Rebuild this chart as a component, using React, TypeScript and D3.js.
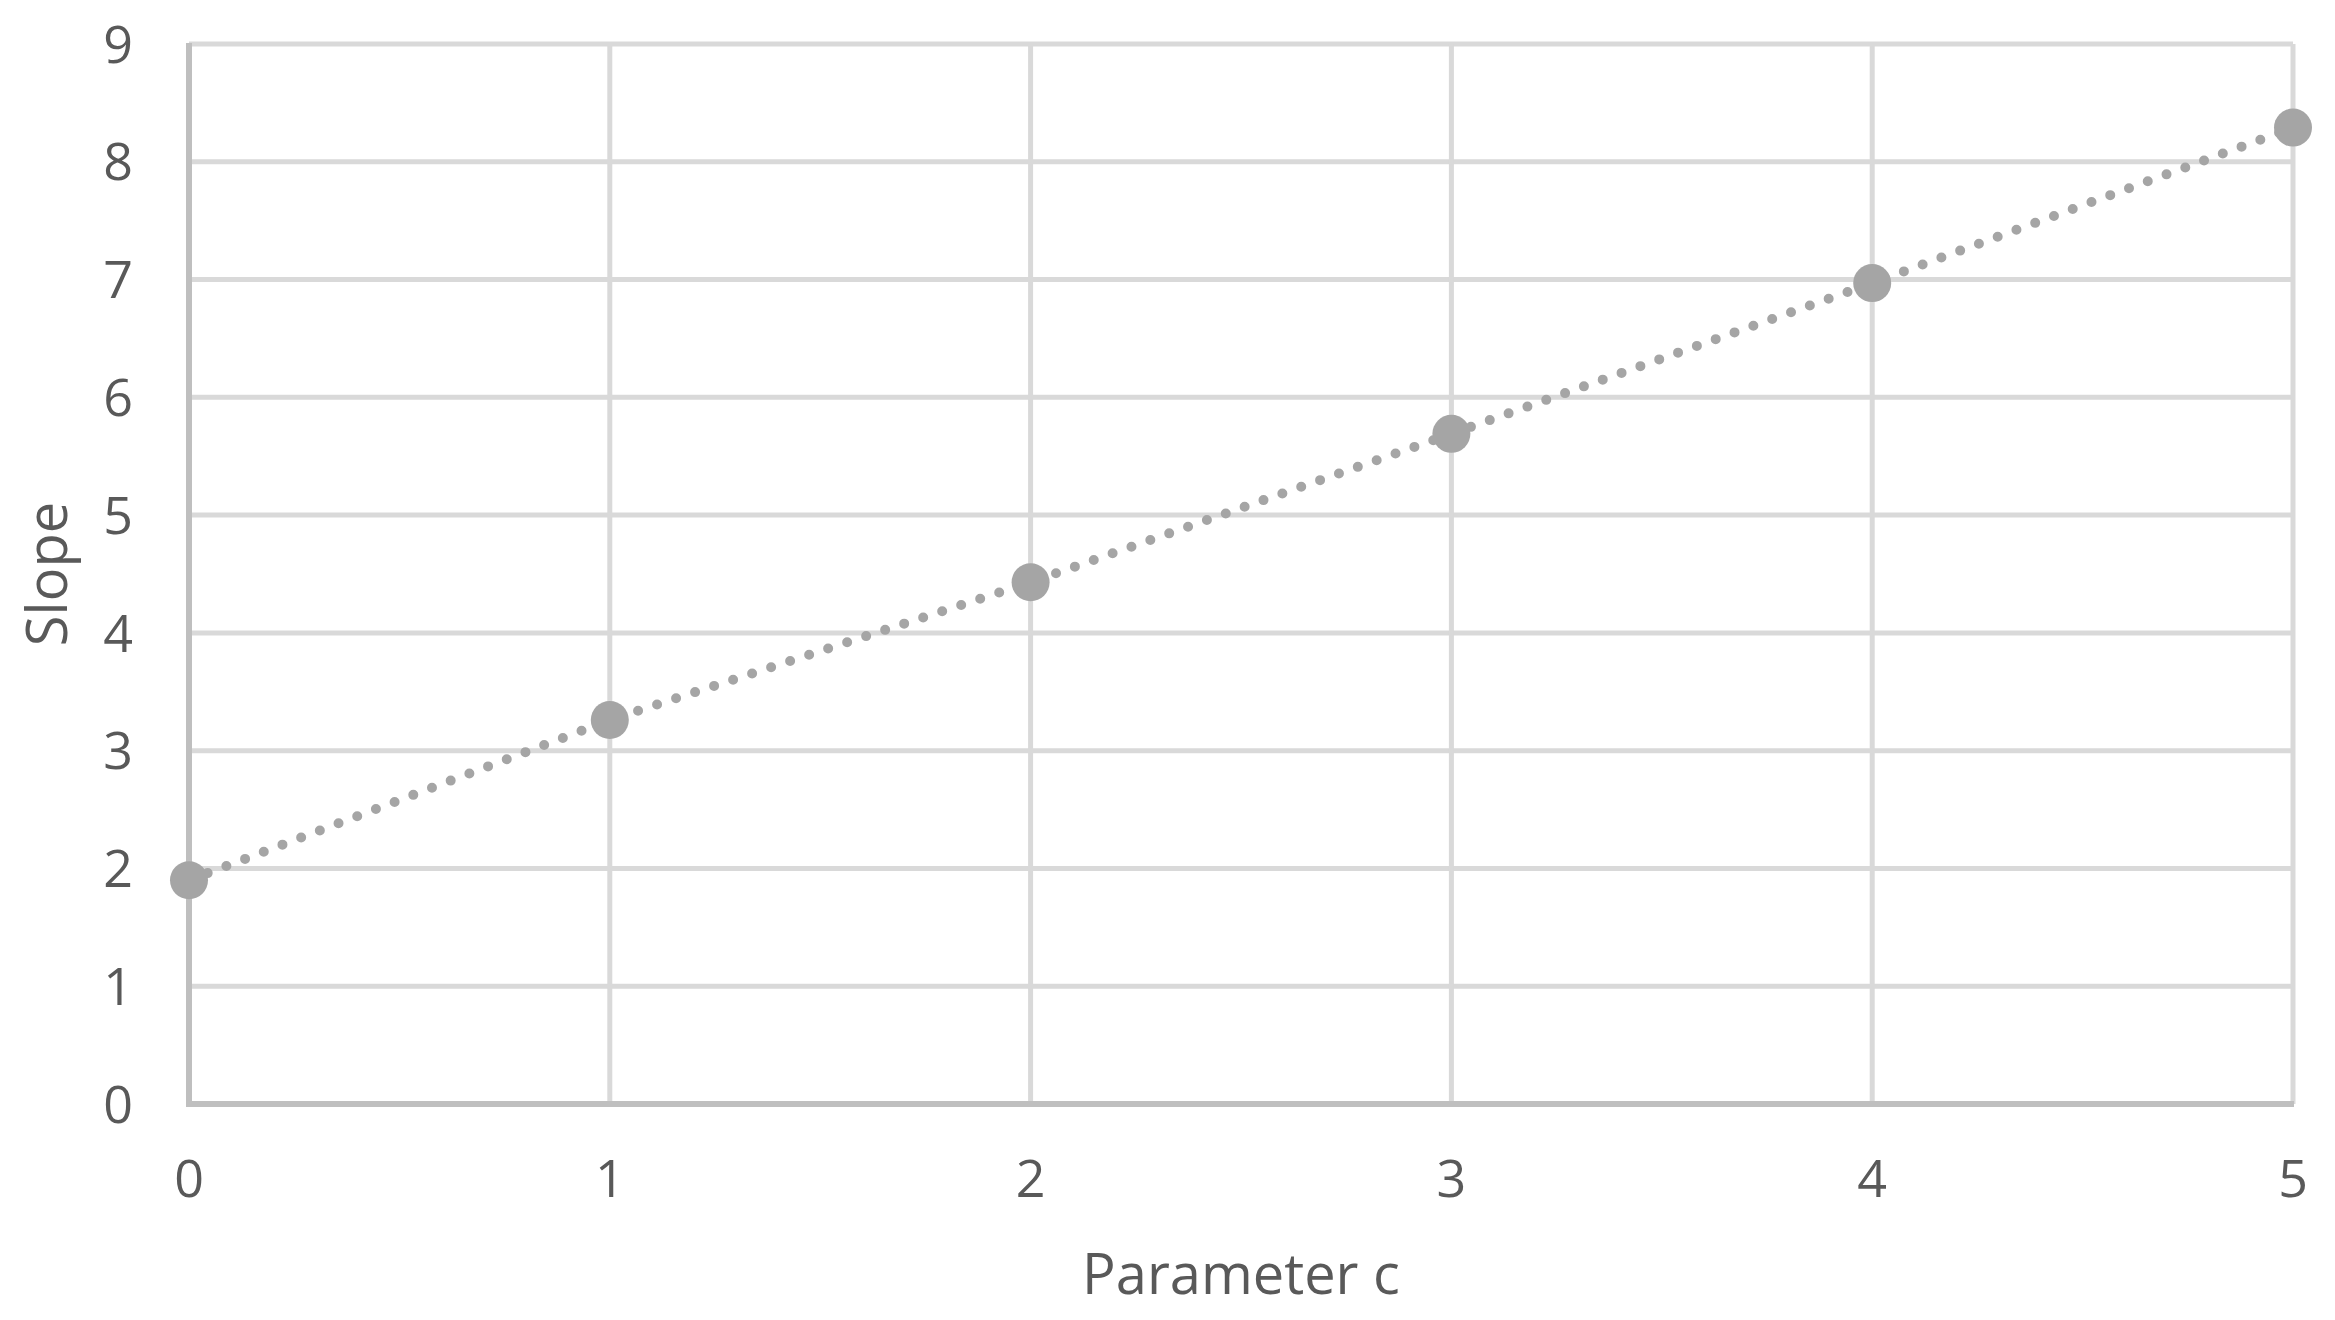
import React from "react";
import * as d3 from "d3";

const paramC = [0, 1, 2, 3, 4, 5];
const slopeValues = [1.9, 3.26, 4.43, 5.69, 6.97, 8.29];
const yTicks = [0, 1, 2, 3, 4, 5, 6, 7, 8, 9];
const xTicks = [0, 1, 2, 3, 4, 5];
const xTitle = "Parameter c";
const yTitle = "Slope";

const W = 2335;
const H = 1320;
const FONT = "'Open Sans', sans-serif";
const TEXT = "#595959";

export default function App() {
  const x = d3.scaleLinear().domain([0, 5]).range([189, 2293]);
  const y = d3.scaleLinear().domain([0, 9]).range([1104, 44]);
  const pts = paramC.map((c, i) => [x(c), y(slopeValues[i])] as [number, number]);
  const line = d3.line()(pts) || "";

  return (
    <svg
      width={W}
      height={H}
      style={{ position: "absolute", left: 0, top: 0, background: "#fff" }}
      fontFamily={FONT}
    >
      <rect x={0} y={0} width={W} height={H} fill="#fff" />
      {yTicks.filter((t) => t > 0).map((t) => (
        <line key={"gy" + t} x1={x(0)} x2={x(5)} y1={y(t)} y2={y(t)} stroke="#d9d9d9" strokeWidth={5} />
      ))}
      {xTicks.filter((t) => t > 0).map((t) => (
        <line key={"gx" + t} x1={x(t)} x2={x(t)} y1={y(9)} y2={y(0)} stroke="#d9d9d9" strokeWidth={5} />
      ))}
      <line x1={x(0)} x2={x(0)} y1={y(9) - 1} y2={y(0) + 3} stroke="#bfbfbf" strokeWidth={6} />
      <line x1={x(0)} x2={x(5) + 1} y1={y(0)} y2={y(0)} stroke="#bfbfbf" strokeWidth={6} />
      {yTicks.map((t) => (
        <text key={"ty" + t} x={133} y={y(t)} dy="0.36em" textAnchor="end" fontSize={52} fill={TEXT}>
          {t}
        </text>
      ))}
      {xTicks.map((t) => (
        <text key={"tx" + t} x={x(t)} y={1197} textAnchor="middle" fontSize={52} fill={TEXT}>
          {t}
        </text>
      ))}
      <path d={line} fill="none" stroke="#a5a5a5" strokeWidth={10} strokeDasharray="0 20" strokeLinecap="round" />
      {pts.map((p, i) => (
        <circle key={"p" + i} cx={p[0]} cy={p[1]} r={19} fill="#a5a5a5" />
      ))}
      <text x={(x(0) + x(5)) / 2} y={1294} textAnchor="middle" fontSize={56} fill={TEXT}>
        {xTitle}
      </text>
      <text
        transform={`translate(67, ${(y(0) + y(9)) / 2}) rotate(-90)`}
        textAnchor="middle"
        fontSize={56}
        fill={TEXT}
      >
        {yTitle}
      </text>
    </svg>
  );
}
